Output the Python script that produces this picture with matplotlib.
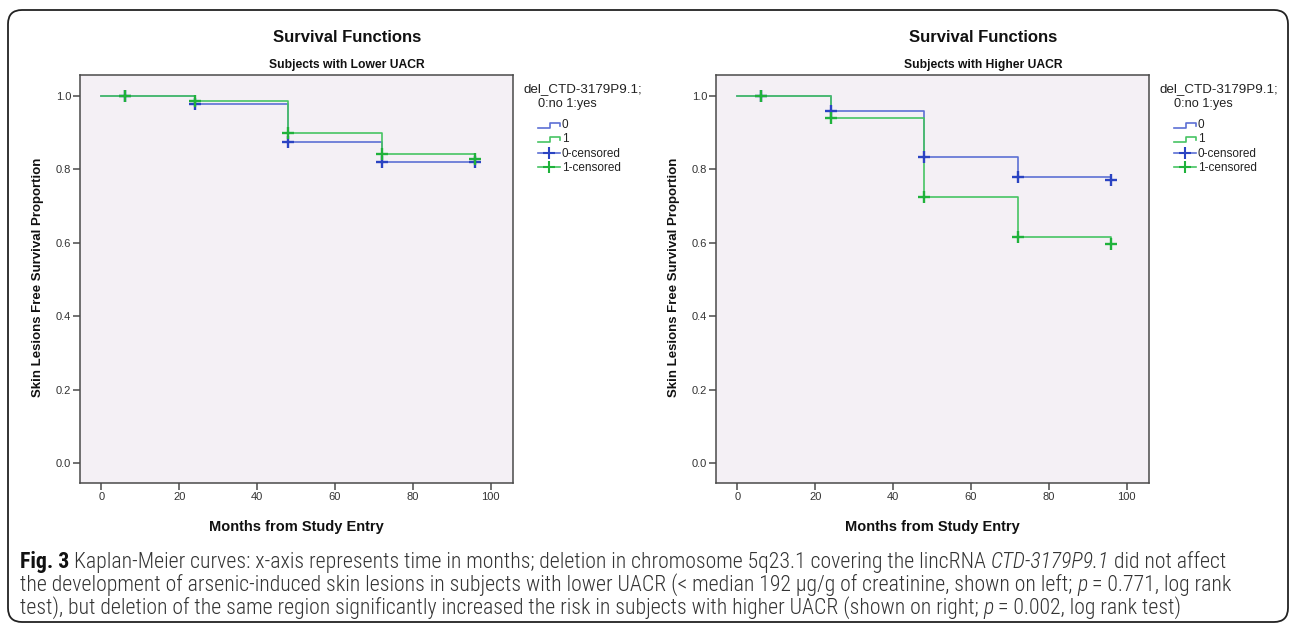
import matplotlib
matplotlib.use("Agg")
import matplotlib.pyplot as plt
import numpy as np
from matplotlib.legend_handler import HandlerBase
from matplotlib.lines import Line2D
from matplotlib.patches import FancyBboxPatch
import logging
logging.getLogger('matplotlib.font_manager').setLevel(logging.ERROR)

plt.rcParams['font.family'] = ['Liberation Sans', 'DejaVu Sans']

# ---------------- data ----------------
months = [0, 24, 48, 72, 96]
censor_months = [6, 24, 48, 72, 96]
lower_no = [1.0, 0.979, 0.875, 0.820, 0.819]
lower_yes = [1.0, 0.987, 0.898, 0.842, 0.828]
higher_no = [1.0, 0.959, 0.834, 0.779, 0.770]
higher_yes = [1.0, 0.940, 0.725, 0.615, 0.596]
x_ticks = [0, 20, 40, 60, 80, 100]
y_ticks = [0.0, 0.2, 0.4, 0.6, 0.8, 1.0]
legend_labels = ['0', '1', '0-censored', '1-censored']
legend_title = ['del_CTD-3179P9.1;', '0:no 1:yes']
subtitles = ['Subjects with Lower UACR', 'Subjects with Higher UACR']
main_title = 'Survival Functions'
x_label = 'Months from Study Entry'
y_label = 'Skin Lesions Free Survival Proportion'

caption_lines = [
    [("Fig. 3", 'bold'), (" Kaplan-Meier curves: x-axis represents time in months; deletion in chromosome 5q23.1 covering the lincRNA ", 'normal'),
     ("CTD-3179P9.1", 'italic'), (" did not affect", 'normal')],
    [("the development of arsenic-induced skin lesions in subjects with lower UACR (< median 192 \u03bcg/g of creatinine, shown on left; ", 'normal'),
     ("p", 'italic'), (" = 0.771, log rank", 'normal')],
    [("test), but deletion of the same region significantly increased the risk in subjects with higher UACR (shown on right; ", 'normal'),
     ("p", 'italic'), (" = 0.002, log rank test)", 'normal')],
]

# ---------------- style ----------------
W, H = 1290, 630
BLUE_LINE = '#5c70d4'
BLUE_MK = '#2a43c2'
GREEN_LINE = '#47c463'
GREEN_MK = '#1fb23b'
FACE = '#f4f0f5'
SPINE = '#4a4a4a'
TICKC = '#333333'

fig = plt.figure(figsize=(W / 100, H / 100), dpi=100)
fig.patch.set_facecolor('white')

frame = FancyBboxPatch((0.08, 0.08), 12.80, 6.12, boxstyle="round,pad=0,rounding_size=0.14",
                       transform=fig.dpi_scale_trans, fill=False, lw=1.3, ec='#222222')
fig.patches.append(frame)


class HandlerStep(HandlerBase):
    def create_artists(self, legend, orig_handle, xdescent, ydescent, width, height, fontsize, trans):
        x0, y0 = -xdescent, -ydescent
        xs = [x0, x0 + 0.55 * width, x0 + 0.55 * width, x0 + width, x0 + width]
        ys = [y0 + 0.05 * height, y0 + 0.05 * height, y0 + 0.65 * height, y0 + 0.65 * height, y0 + 0.3 * height]
        ln = Line2D(xs, ys, color=orig_handle.get_color(), lw=orig_handle.get_linewidth())
        ln.set_transform(trans)
        return [ln]


def draw_panel(ax_left_px, no, yes, subtitle):
    ax = fig.add_axes([ax_left_px / W, 1 - 483 / H, 433 / W, 408 / H])
    ax.set_facecolor(FACE)
    ax.step(months, no, where='post', color=BLUE_LINE, lw=1.2)
    ax.step(months, yes, where='post', color=GREEN_LINE, lw=1.2)
    idx = np.searchsorted(months, censor_months, side='right') - 1
    ax.plot(censor_months, np.asarray(no)[idx], ls='none', marker='+', ms=8, mew=1.7, color=BLUE_MK)
    ax.plot(censor_months, np.asarray(yes)[idx], ls='none', marker='+', ms=8, mew=1.7, color=GREEN_MK)
    ax.set_xlim(-5.5, 105.7)
    ax.set_ylim(-0.054, 1.057)
    ax.set_xticks(x_ticks)
    ax.set_xticklabels([str(t) for t in x_ticks])
    ax.set_yticks(y_ticks)
    ax.set_yticklabels([f"{t:.1f}" for t in y_ticks])
    ax.tick_params(length=5, width=1.1, color=SPINE, labelsize=8, labelcolor=TICKC, pad=1.5)
    for s in ax.spines.values():
        s.set_color(SPINE)
        s.set_linewidth(1.1)

    handles = [Line2D([], [], color=BLUE_LINE, lw=1.2), Line2D([], [], color=GREEN_LINE, lw=1.2),
               Line2D([], [], color=BLUE_LINE, lw=1.2, marker='+', ms=8, mew=1.5, mec=BLUE_MK),
               Line2D([], [], color=GREEN_LINE, lw=1.2, marker='+', ms=8, mew=1.5, mec=GREEN_MK)]
    leg = ax.legend(handles, legend_labels, loc='upper left',
                    bbox_to_anchor=((538 - 80) / 433, 1 - (119 - 75) / 408),
                    frameon=False, fontsize=8.5, numpoints=1, handlelength=1.85, handletextpad=0.15,
                    labelspacing=0.2, borderpad=0, borderaxespad=0,
                    handler_map={handles[0]: HandlerStep(), handles[1]: HandlerStep()})
    for t in leg.get_texts():
        t.set_color('#222222')
    ax.text((523 - 80) / 433, 1 - (89 - 75) / 408, legend_title[0], transform=ax.transAxes,
            ha='left', va='center', fontsize=9.6, color='#222222')
    ax.text((538 - 80) / 433, 1 - (104 - 75) / 408, legend_title[1], transform=ax.transAxes,
            ha='left', va='center', fontsize=9.2, color='#222222')

    cx = ax_left_px + 267
    fig.text(cx / W, 1 - 37 / H, main_title, ha='center', va='center', fontsize=12, fontweight='bold', color='#111111')
    fig.text(cx / W, 1 - 65 / H, subtitle, ha='center', va='center', fontsize=8.7, fontweight='bold', color='#111111')
    fig.text((ax_left_px - 42) / W, 1 - 277 / H, y_label, rotation=90, ha='center', va='center',
             fontsize=9.5, fontweight='bold', color='#111111')
    fig.text((ax_left_px + 216.5) / W, 1 - 527 / H, x_label, ha='center', va='center',
             fontsize=10.5, fontweight='bold', color='#111111')
    return ax


draw_panel(80, lower_no, lower_yes, subtitles[0])
draw_panel(716, higher_no, higher_yes, subtitles[1])

# ---------------- caption ----------------
renderer = fig.canvas.get_renderer()
CAP_FAMILY = ['Liberation Sans Narrow', 'DejaVu Sans Condensed', 'Roboto Condensed',
              'Open Sans Condensed', 'Noto Sans Condensed', 'Liberation Sans']


def style_kw(style, size):
    kw = dict(fontsize=size, family=CAP_FAMILY, fontstretch='condensed', color='#333333', fontweight='light')
    if style == 'bold':
        kw.update(fontweight='bold', color='#111111')
    elif style == 'italic':
        kw.update(fontstyle='italic')
    return kw


def measure(s, kw):
    t = fig.text(0, 0, s, **kw)
    w = t.get_window_extent(renderer).width
    t.remove()
    return w


def space_w(kw):
    return measure("a a", kw) - measure("aa", kw)


def line_width(segs, size):
    total = 0
    for s, st in segs:
        kw = style_kw(st, size)
        lead = len(s) - len(s.lstrip(' '))
        trail = len(s) - len(s.rstrip(' '))
        total += (lead + trail) * space_w(kw) + measure(s.strip(' '), kw)
    return total


def draw_line(x, y, segs, size):
    for s, st in segs:
        kw = style_kw(st, size)
        lead = len(s) - len(s.lstrip(' '))
        trail = len(s) - len(s.rstrip(' '))
        sw = space_w(kw)
        x += lead * sw
        t = fig.text(x / W, 1 - y / H, s.strip(' '), ha='left', va='baseline', **kw)
        x += t.get_window_extent(renderer).width + trail * sw


base = 12.0
total_w = sum(line_width(seg, base) for seg in caption_lines)
cap_size = min(15.8, base * 3572 / total_w)
for seg, yb in zip(caption_lines, [568, 591, 614]):
    draw_line(20, yb, seg, cap_size)

fig.savefig('out.png', dpi=100, facecolor='white')
